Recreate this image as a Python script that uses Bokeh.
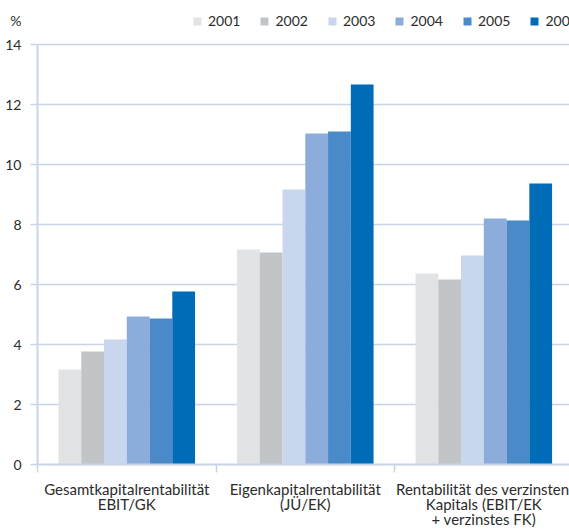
from bokeh.plotting import figure
from bokeh.models import (ColumnDataSource, Range1d, FixedTicker, Legend, LegendItem,
                          LinearAxis)
from bokeh.transform import dodge
from bokeh.embed import file_html
from bokeh.resources import INLINE

# ---- data ----
categories = [
    "Gesamtkapitalrentabilität\nEBIT/GK",
    "Eigenkapitalrentabilität\n(JÜ/EK)",
    "Rentabilität des verzinsten\nKapitals (EBIT/EK\n+ verzinstes FK)",
]
years = ["2001", "2002", "2003", "2004", "2005", "2006"]
v2001 = [3.17, 7.17, 6.37]
v2002 = [3.77, 7.07, 6.17]
v2003 = [4.17, 9.17, 6.97]
v2004 = [4.93, 11.03, 8.20]
v2005 = [4.87, 11.10, 8.13]
v2006 = [5.77, 12.67, 9.37]
y_ticks = [0, 2, 4, 6, 8, 10, 12, 14]
unit_label = "%"
unit_label_y = 14.8

series = [v2001, v2002, v2003, v2004, v2005, v2006]
colors = ["#e2e3e5", "#c2c5c8", "#c8d6ee", "#8caddb", "#4a8ac9", "#006bb6"]

FONT = "Lato"
TEXT = "#2b2b2b"
GRID = "#c7d5ea"

cat_pos = [i + 0.5 for i in range(len(categories))]
data = {"x": cat_pos}
for yr, vals in zip(years, series):
    data["y" + yr] = vals
source = ColumnDataSource(data)

p = figure(width=569, height=530, output_backend="svg", toolbar_location=None,
           x_range=Range1d(0, 2.98), y_range=Range1d(0, 15.467),
           min_border_left=37, min_border_right=0, min_border_top=0,
           min_border_bottom=66)
p.outline_line_color = None
p.background_fill_color = "white"
p.border_fill_color = "white"

bw = 0.1275
items = []
for j, (yr, c) in enumerate(zip(years, colors)):
    r = p.vbar(x=dodge("x", (j - 2.5) * bw), top="y" + yr, width=bw, source=source,
               fill_color=c, line_color=None)
    items.append(LegendItem(label=yr, renderers=[r]))

# x axes: one per label line
lines = [lab.split("\n") for lab in categories]
n_lines = max(len(l) for l in lines)

xa = p.xaxis[0]
xa.ticker = FixedTicker(ticks=cat_pos, minor_ticks=[0, 1, 2, 3])
xa.major_tick_out = 0
xa.major_tick_in = 0
xa.minor_tick_out = 8
xa.minor_tick_in = 0
xa.minor_tick_line_color = GRID
xa.minor_tick_line_width = 1.5
xa.axis_line_color = GRID
xa.axis_line_width = 2
xa.major_label_standoff = 7

axes = [xa]
standoffs = [-6, -6]
for k in range(1, n_lines):
    ax = LinearAxis(ticker=FixedTicker(ticks=cat_pos), axis_line_color=None,
                    major_tick_out=0, major_tick_in=0, minor_tick_out=0,
                    minor_tick_in=0, major_label_standoff=standoffs[k - 1])
    p.add_layout(ax, "below")
    axes.append(ax)

for k, ax in enumerate(axes):
    ax.major_label_overrides = {pos: (l[k] if k < len(l) else "")
                                for pos, l in zip(cat_pos, lines)}
    ax.major_label_text_font = FONT
    ax.major_label_text_font_size = "15px"
    ax.major_label_text_color = TEXT

# y axis: inner = line + ticks (bounded to 0..14), outer = labels incl. unit
ya = p.yaxis[0]
ya.ticker = FixedTicker(ticks=y_ticks)
ya.bounds = (y_ticks[0], y_ticks[-1])
ya.major_tick_out = 7
ya.major_tick_in = 0
ya.minor_tick_out = 0
ya.minor_tick_in = 0
ya.major_tick_line_color = GRID
ya.major_tick_line_width = 1.5
ya.axis_line_color = GRID
ya.axis_line_width = 2
ya.major_label_standoff = 0
ya.major_label_overrides = {t: "" for t in y_ticks}

ylab = LinearAxis(ticker=FixedTicker(ticks=y_ticks + [unit_label_y]),
                  axis_line_color=None, major_tick_out=0, major_tick_in=0,
                  minor_tick_out=0, minor_tick_in=0, major_label_standoff=9,
                  major_label_overrides={**{t: str(t) for t in y_ticks},
                                         unit_label_y: unit_label},
                  major_label_text_font=FONT, major_label_text_font_size="14px",
                  major_label_text_color=TEXT)
p.add_layout(ylab, "left")

p.xgrid.visible = False
p.ygrid.ticker = FixedTicker(ticks=y_ticks)
p.ygrid.grid_line_color = GRID
p.ygrid.grid_line_width = 1.5

legend = Legend(items=items, orientation="horizontal", location=(155, 435),
                glyph_width=10, glyph_height=10, label_standoff=6, spacing=19,
                padding=0, margin=0, border_line_color=None,
                background_fill_alpha=0, label_text_font=FONT,
                label_text_font_size="14px", label_text_color=TEXT)
p.add_layout(legend)

open("out.html", "w").write(file_html(p, INLINE))
